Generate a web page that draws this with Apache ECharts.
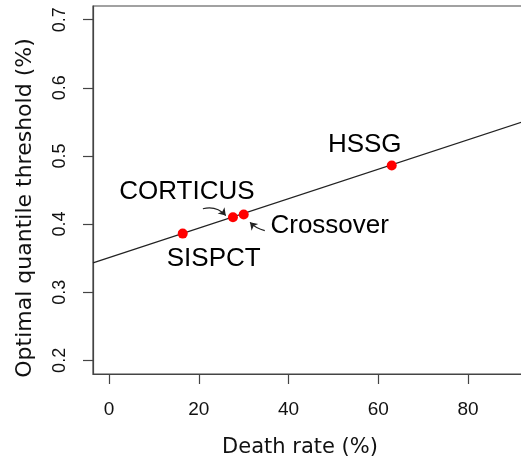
<!DOCTYPE html>
<html>
<head>
<meta charset="utf-8">
<script src="https://cdn.jsdelivr.net/npm/echarts@6/dist/echarts.min.js"></script>
<style>html,body{margin:0;padding:0;background:#fff;}#c{width:521px;height:461px;}</style>
</head>
<body>
<div id="c"></div>
<script>
// Data
const pointNames = ['SISPCT', 'CORTICUS', 'Crossover', 'HSSG'];
const deathRate = [16.4, 27.6, 30.0, 63.0];
const threshold = [0.386, 0.410, 0.414, 0.486];
// regression line endpoints (x, y) at the plot edges
const fitX = [-3.6, 93.6];
const fitY = [0.343, 0.553];
// annotation arrows: [startX, startY, endX, endY]
const arrowCorticus = [20.9, 0.4225, 26.0, 0.4125];
const arrowCrossover = [34.7, 0.3905, 31.4, 0.4025];
const xTicks = [0, 20, 40, 60, 80];
const yTicks = [0.2, 0.3, 0.4, 0.5, 0.6, 0.7];
const xRange = [-3.6, 93.6];
const yRange = [0.18, 0.72];
const xTitle = 'Death rate (%)';
const yTitle = 'Optimal quantile threshold (%)';

const labelOffsets = {
  'SISPCT': [31, 25],
  'CORTICUS': [-46, -25],
  'Crossover': [86, 11],
  'HSSG': [-27, -21]
};

const GRID_H = 368;
const TICK_PX = 10;
const tickLen = (yRange[1] - yRange[0]) * TICK_PX / GRID_H;

const chart = echarts.init(document.getElementById('c'), null, {renderer: 'canvas'});
const pts = pointNames.map((n, i) => ({
  name: n,
  value: [deathRate[i], threshold[i]],
  label: {offset: labelOffsets[n]}
}));

chart.setOption({
  animation: false,
  backgroundColor: '#fff',
  grid: {left: 93, top: 6, width: 436, height: GRID_H, show: true, borderColor: '#444', borderWidth: 1.2,
    backgroundColor: 'transparent', containLabel: false, outerBoundsMode: 'none'},
  xAxis: {
    type: 'value', min: xRange[0], max: xRange[1], position: 'bottom',
    splitLine: {show: false},
    axisLine: {show: true, onZero: false, lineStyle: {color: '#444', width: 1.2}},
    axisTick: {show: false},
    axisLabel: {customValues: xTicks, margin: 26, fontFamily: 'Liberation Sans', fontSize: 19, color: '#111'}
  },
  yAxis: {
    type: 'value', min: yRange[0], max: yRange[1], position: 'left',
    splitLine: {show: false},
    axisLine: {show: true, onZero: false, lineStyle: {color: '#444', width: 1.2}},
    axisTick: {show: true, inside: false, length: TICK_PX, customValues: yTicks, lineStyle: {color: '#444', width: 1.2}},
    axisLabel: {customValues: yTicks, rotate: 90, margin: 24, fontFamily: 'Liberation Sans', fontSize: 18, color: '#111',
      formatter: v => v.toFixed(1)}
  },
  graphic: [
    {type: 'text', x: 300, y: 448, style: {text: xTitle, x: 0, y: 0, align: 'center', verticalAlign: 'middle', font: '21px "DejaVu Sans"', fill: '#111'}},
    {type: 'text', rotation: Math.PI / 2, x: 25, y: 208, style: {text: yTitle, x: 0, y: 0, align: 'center', verticalAlign: 'middle', font: '22px "DejaVu Sans"', fill: '#111'}}
  ],
  series: [
    {
      type: 'line', data: fitX.map((x, i) => [x, fitY[i]]), symbol: 'none',
      lineStyle: {color: '#222', width: 1.3}, clip: true, z: 2
    },
    {
      // x-axis tick marks (outward, below the box)
      type: 'lines', coordinateSystem: 'cartesian2d', clip: false, silent: true,
      symbol: ['none', 'none'],
      lineStyle: {color: '#444', width: 1.2, opacity: 1, curveness: 0},
      data: xTicks.map(x => ({coords: [[x, yRange[0]], [x, yRange[0] - tickLen]]})),
      z: 10
    },
    {
      type: 'lines', coordinateSystem: 'cartesian2d', polyline: false,
      symbol: ['none', 'arrow'], symbolSize: 7,
      lineStyle: {color: '#222', width: 1.2, opacity: 1, curveness: 0.3},
      data: [
        {coords: [[arrowCorticus[0], arrowCorticus[1]], [arrowCorticus[2], arrowCorticus[3]]]},
        {coords: [[arrowCrossover[0], arrowCrossover[1]], [arrowCrossover[2], arrowCrossover[3]]], lineStyle: {curveness: 0.15}}
      ],
      z: 3
    },
    {
      type: 'scatter', data: pts, symbolSize: 10,
      itemStyle: {color: '#ff0000', opacity: 1},
      label: {show: true, position: 'inside', formatter: p => p.name, fontFamily: 'Liberation Sans', fontSize: 26, color: '#000'},
      z: 4
    }
  ]
});
</script>
</body>
</html>
